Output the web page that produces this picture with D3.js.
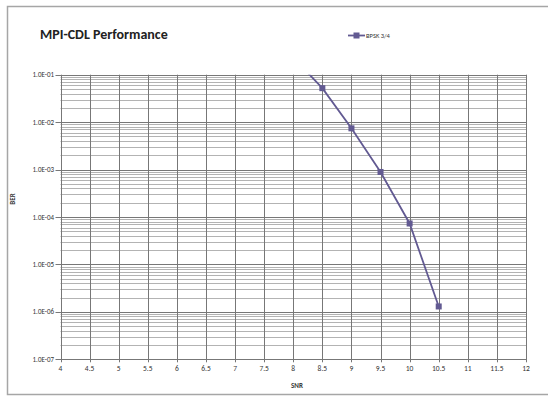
<!DOCTYPE html>
<html>
<head>
<meta charset="utf-8">
<script src="https://cdn.jsdelivr.net/npm/d3@7"></script>
<style>
  body { margin: 0; background: #fff; }
  svg { display: block; font-family: Calibri, Carlito, "Liberation Sans", Arial, sans-serif; }
</style>
</head>
<body>
<div class="chart"></div>
<script>
let width = 548,
    height = 396;

const seriesName = "BPSK 3/4";
const snr = [8, 8.5, 9, 9.5, 10, 10.5];
const ber = [0.23, 5.2e-2, 7.4e-3, 8.9e-4, 7.3e-5, 1.3e-6];
const xTicks = [4, 4.5, 5, 5.5, 6, 6.5, 7, 7.5, 8, 8.5, 9, 9.5, 10, 10.5, 11, 11.5, 12];
const yTicks = [1e-1, 1e-2, 1e-3, 1e-4, 1e-5, 1e-6, 1e-7];

const plot = { left: 60.5, right: 526, top: 74.7, bottom: 359.3 };
const lineColor = "#625a92";

let svg = d3.select(".chart").append("svg")
    .attr("width", width)
    .attr("height", height);

// chart frame
svg.append("rect")
    .attr("x", 7.5).attr("y", 6.5)
    .attr("width", 600).attr("height", 388)
    .style("fill", "none")
    .style("stroke", "#a6a6a6")
    .style("stroke-width", 1.5);

let x = d3.scaleLinear().domain([4, 12]).range([plot.left, plot.right]);
let y = d3.scaleLog().domain([1e-7, 1e-1]).range([plot.bottom, plot.top]);

// minor horizontal grid
let minor = [];
for (let e = -7; e < -1; e++) {
    for (let m = 2; m <= 9; m++) minor.push(m * Math.pow(10, e));
}
svg.append("g").selectAll("line")
    .data(minor)
    .join("line")
    .attr("x1", plot.left).attr("x2", plot.right)
    .attr("y1", d => Math.round(y(d)) + 0.5)
    .attr("y2", d => Math.round(y(d)) + 0.5)
    .style("stroke", "#a0a0a0")
    .style("stroke-width", 0.8);

// major horizontal grid
svg.append("g").selectAll("line")
    .data(yTicks)
    .join("line")
    .attr("x1", plot.left - 5).attr("x2", plot.right)
    .attr("y1", d => Math.round(y(d)) + 0.5)
    .attr("y2", d => Math.round(y(d)) + 0.5)
    .style("stroke", "#777")
    .style("stroke-width", 1);

// vertical grid
svg.append("g").selectAll("line")
    .data(xTicks)
    .join("line")
    .attr("x1", d => Math.round(x(d)) + 0.5)
    .attr("x2", d => Math.round(x(d)) + 0.5)
    .attr("y1", plot.top).attr("y2", plot.bottom + 3)
    .style("stroke", "#777")
    .style("stroke-width", 1);

// tick labels
svg.append("g").selectAll("text")
    .data(yTicks)
    .join("text")
    .attr("x", 54)
    .attr("y", d => y(d) + 2.5)
    .attr("text-anchor", "end")
    .style("font-size", "7px")
    .style("fill", "#333")
    .text(d => "1.0E-" + String(-Math.round(Math.log10(d))).padStart(2, "0"));

svg.append("g").selectAll("text")
    .data(xTicks)
    .join("text")
    .attr("x", d => x(d))
    .attr("y", 371)
    .attr("text-anchor", "middle")
    .style("font-size", "7.5px")
    .style("fill", "#333")
    .text(d => d);

// axis titles
svg.append("text")
    .attr("x", 297).attr("y", 388)
    .attr("text-anchor", "middle")
    .style("font-size", "7px")
    .style("font-weight", "bold")
    .style("fill", "#333")
    .text("SNR");

svg.append("text")
    .attr("transform", "translate(15,199) rotate(-90)")
    .attr("text-anchor", "middle")
    .style("font-size", "7px")
    .style("font-weight", "bold")
    .style("fill", "#333")
    .text("BER");

// title
svg.append("text")
    .attr("x", 40).attr("y", 39)
    .style("font-size", "14px")
    .style("font-weight", "bold")
    .style("fill", "#222")
    .text("MPI-CDL Performance");

// series
svg.append("clipPath").attr("id", "clip")
    .append("rect")
    .attr("x", plot.left).attr("y", plot.top)
    .attr("width", plot.right - plot.left)
    .attr("height", plot.bottom - plot.top);

const points = snr.map((s, i) => ({ s: s, b: ber[i] }));

let g = svg.append("g").attr("clip-path", "url(#clip)");
g.append("path")
    .datum(points)
    .attr("d", d3.line().x(d => x(d.s)).y(d => y(d.b)))
    .style("fill", "none")
    .style("stroke", lineColor)
    .style("stroke-width", 1.8);

g.selectAll("rect.pt")
    .data(points.filter(d => d.b <= 1e-1))
    .join("rect")
    .attr("class", "pt")
    .attr("x", d => x(d.s) - 3)
    .attr("y", d => y(d.b) - 3)
    .attr("width", 6).attr("height", 6)
    .style("fill", lineColor);

// legend
svg.append("line")
    .attr("x1", 348).attr("x2", 365)
    .attr("y1", 35.5).attr("y2", 35.5)
    .style("stroke", lineColor)
    .style("stroke-width", 1.8);
svg.append("rect")
    .attr("x", 353.5).attr("y", 32.5)
    .attr("width", 6).attr("height", 6)
    .style("fill", lineColor);
svg.append("text")
    .attr("x", 366).attr("y", 38)
    .style("font-size", "6.5px")
    .style("fill", "#333")
    .text(seriesName);
</script>
</body>
</html>
